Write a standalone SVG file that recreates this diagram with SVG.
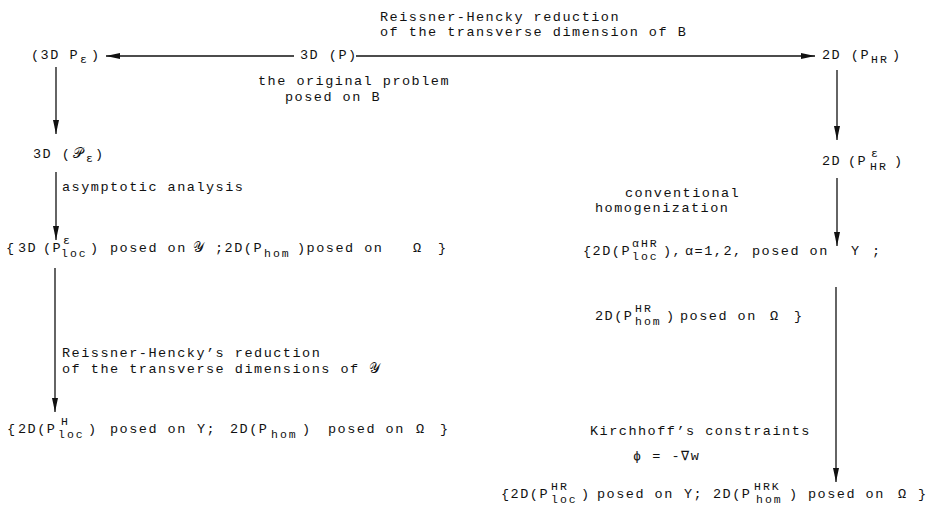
<svg xmlns="http://www.w3.org/2000/svg" width="930" height="516" viewBox="0 0 930 516">
<style>
text { font-family: "Liberation Mono", "DejaVu Sans Mono", monospace; font-size: 13.5px; letter-spacing: 1.5px; fill: #111; }
.s { font-size: 11.5px; letter-spacing: 2px; }
.m { font-family: "DejaVu Sans", "DejaVu Serif", serif; letter-spacing: 0; }
line { stroke: #111; stroke-width: 1.3; }
</style>
<defs>
<marker id="ah" markerUnits="userSpaceOnUse" markerWidth="14" markerHeight="6" refX="14" refY="3" orient="auto">
<path d="M0,0 L14,3 L0,6 z" fill="#111"/>
</marker>
</defs>
<rect width="930" height="516" fill="#fff"/>

<g id="connectors">
<line x1="294" y1="56" x2="106" y2="56" marker-end="url(#ah)"/>
<line x1="356" y1="56" x2="815" y2="56" marker-end="url(#ah)"/>
<line x1="56" y1="67" x2="56" y2="134" marker-end="url(#ah)"/>
<line x1="56" y1="172" x2="56" y2="240" marker-end="url(#ah)"/>
<line x1="55" y1="268" x2="55" y2="412" marker-end="url(#ah)"/>
<line x1="837" y1="70" x2="837" y2="140" marker-end="url(#ah)"/>
<line x1="837" y1="178" x2="837" y2="246" marker-end="url(#ah)"/>
<line x1="836" y1="287" x2="836" y2="482" marker-end="url(#ah)"/>
</g>

<g id="label-hr-top">
<text x="380" y="21">Reissner-Hencky reduction</text>
<text x="380" y="36">of the transverse dimension of B</text>
</g>
<g id="label-original">
<text x="258" y="85">the original problem</text>
<text x="285" y="101">posed on B</text>
</g>

<g id="node-3dpe">
<text y="59"><tspan x="31">(3D P</tspan><tspan class="s" x="80" dy="4">ε</tspan><tspan x="91" dy="-4">)</tspan></text>
</g>
<g id="node-3dp">
<text x="300" y="59">3D (P)</text>
</g>
<g id="node-2dphr">
<text y="59"><tspan x="822">2D (P</tspan><tspan class="s" x="871" dy="4">HR</tspan><tspan x="892" dy="-4">)</tspan></text>
</g>

<g id="node-3dcalpe">
<text y="158"><tspan x="33">3D (</tspan><tspan class="m" x="73">𝒫</tspan><tspan class="s" x="86" dy="4">ε</tspan><tspan x="95" dy="-4">)</tspan></text>
</g>
<g id="label-asym">
<text x="62" y="191">asymptotic analysis</text>
</g>

<g id="node-left3">
<text y="252"><tspan x="6">{</tspan><tspan x="18">3D</tspan><tspan x="43">(P</tspan><tspan class="s" x="63" dy="-8">ε</tspan><tspan class="s" x="61" dy="13">loc</tspan><tspan x="90" dy="-5">)</tspan><tspan x="110">posed on</tspan><tspan class="m" x="193">𝒴</tspan><tspan x="215">;2D(P</tspan><tspan class="s" x="264" dy="5">hom</tspan><tspan x="297" dy="-5">)posed on</tspan><tspan x="413">Ω</tspan><tspan x="438">}</tspan></text>
</g>

<g id="label-rh-left">
<text x="62" y="357">Reissner-Hencky’s reduction</text>
<text x="62" y="373"><tspan>of the transverse dimensions of </tspan><tspan class="m">𝒴</tspan></text>
</g>

<g id="node-left4">
<text y="433"><tspan x="7">{</tspan><tspan x="18">2D(P</tspan><tspan class="s" x="61" dy="-8">H</tspan><tspan class="s" x="58" dy="13">loc</tspan><tspan x="88" dy="-5">)</tspan><tspan x="110">posed on</tspan><tspan x="197">Y;</tspan><tspan x="230">2D(P</tspan><tspan class="s" x="271" dy="5">hom</tspan><tspan x="302" dy="-5">)</tspan><tspan x="328">posed on</tspan><tspan x="416">Ω</tspan><tspan x="440">}</tspan></text>
</g>

<g id="node-2dpehr">
<text y="165"><tspan x="822">2D</tspan><tspan x="848">(P</tspan><tspan class="s" x="871" dy="-8">ε</tspan><tspan class="s" x="870" dy="13">HR</tspan><tspan x="894" dy="-5">)</tspan></text>
</g>
<g id="label-conv">
<text x="625" y="197">conventional</text>
<text x="595" y="212">homogenization</text>
</g>

<g id="node-right3">
<text y="255"><tspan x="583">{2D(P</tspan><tspan class="s" x="632" dy="-8">αHR</tspan><tspan class="s" x="632" dy="13">loc</tspan><tspan x="663" dy="-5">),</tspan><tspan x="685">α=1,2,</tspan><tspan x="752">posed on</tspan><tspan x="851">Y</tspan><tspan x="872">;</tspan></text>
</g>
<g id="node-right3b">
<text y="320"><tspan x="595">2D(P</tspan><tspan class="s" x="635" dy="-8">HR</tspan><tspan class="s" x="635" dy="13">hom</tspan><tspan x="666" dy="-5">)</tspan><tspan x="680">posed on</tspan><tspan x="770">Ω</tspan><tspan x="794">}</tspan></text>
</g>

<g id="label-kirch">
<text x="590" y="435">Kirchhoff’s constraints</text>
<text x="633" y="460">ϕ = -∇w</text>
</g>

<g id="node-right4">
<text y="498"><tspan x="501">{2D(P</tspan><tspan class="s" x="551" dy="-8">HR</tspan><tspan class="s" x="551" dy="13">loc</tspan><tspan x="581" dy="-5">)</tspan><tspan x="597">posed on</tspan><tspan x="684">Y;</tspan><tspan x="713">2D(P</tspan><tspan class="s" x="754" dy="-8">HRK</tspan><tspan class="s" x="756" dy="13">hom</tspan><tspan x="789" dy="-5">)</tspan><tspan x="808">posed on</tspan><tspan x="898">Ω</tspan><tspan x="918">}</tspan></text>
</g>
</svg>
